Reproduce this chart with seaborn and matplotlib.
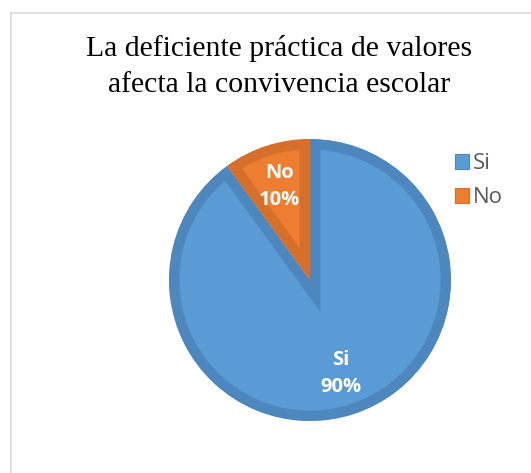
import matplotlib.pyplot as plt
import seaborn as sns
from matplotlib.patches import Rectangle, Patch

# Data
categories = ['Si', 'No']
values = [90, 10]
colors = ['#5B9BD5', '#ED7D31']
edge_colors = ['#4E87BD', '#D56F29']
title = 'La deficiente práctica de valores\nafecta la convivencia escolar'

sns.set_theme(style='white')
plt.rcParams['font.family'] = ['Open Sans', 'DejaVu Sans']

W, H = 531, 473
fig = plt.figure(figsize=(W / 100, H / 100), dpi=100)

# light gray chart border (left and top visible)
fig.patches.append(Rectangle((11 / W, -0.1), 1.2, 1.1 - 13 / H, transform=fig.transFigure,
                             fill=False, edgecolor='#D9D9D9', linewidth=1.2))

fig.text(279 / W, 1 - 66 / H, title, ha='center', va='center', fontsize=21.4,
         family='Liberation Serif', color='black', linespacing=1.5)

# pie: centre (310, 280) px, radius 141 px
cx, cy, r = 310, 280, 141
ax = fig.add_axes([(cx - r) / W, (H - cy - r) / H, 2 * r / W, 2 * r / H])
wedges, texts, autotexts = ax.pie(
    values, colors=colors, startangle=90, counterclock=False,
    autopct='%1.0f%%', pctdistance=0.7,
    textprops=dict(color='white', fontsize=14.5, fontweight='bold'),
    wedgeprops=dict(linewidth=15))
for w, ec in zip(wedges, edge_colors):
    w.set_edgecolor(ec)
    w.set_clip_on(True)
    w.set_clip_path(w)  # keep only the inner half of the edge -> bevel look
for t, lab in zip(autotexts, categories):
    t.set_text(f'{lab}\n{t.get_text()}')
    t.set_linespacing(1.45)
ax.set_xlim(-1, 1)
ax.set_ylim(-1, 1)

handles = [Patch(facecolor=c, edgecolor=ec, linewidth=0.8) for c, ec in zip(colors, edge_colors)]
leg = fig.legend(handles, categories, loc='upper left', bbox_to_anchor=(455 / W, 1 - 153 / H),
                 frameon=False, fontsize=16, handlelength=0.65, handleheight=0.65,
                 handletextpad=0.15, labelspacing=0.6, borderpad=0, borderaxespad=0)
for t in leg.get_texts():
    t.set_color('#595959')

fig.savefig('out.png', dpi=100)
